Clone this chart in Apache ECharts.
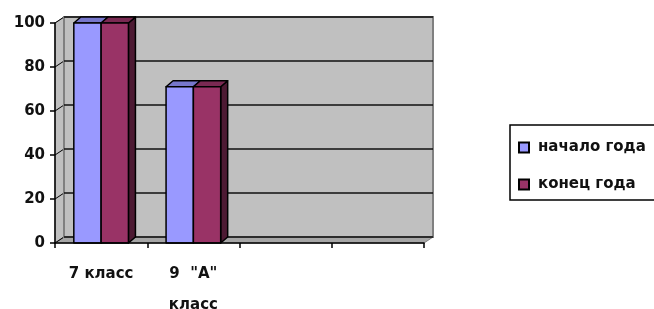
<html>
<head>
    <title>ECharts Sample</title>
    <script src="https://cdn.jsdelivr.net/npm/echarts@6/dist/echarts.min.js"></script>
</head>
<body style="margin:0">
<div id="chart" style="width: 654px; height: 309px;"></div>
<script type="text/javascript">
    // data
    var categories = ['7 класс', '9  "А" класс', '', ''];
    var seriesNames = ['начало года', 'конец года'];
    var startValues = [100, 71];
    var endValues = [100, 71];
    var yTicks = [0, 20, 40, 60, 80, 100];

    // layout of the 3d box
    var G_LEFT = 55, G_TOP = 23, G_W = 369, G_H = 220;
    var WALL_DX = 9, WALL_DY = 6;   // back wall offset
    var BAR_DX = 7, BAR_DY = 6;     // bar depth
    var BAR_RATIO = 0.296;
    var FONT = 'DejaVu Sans';

    var faceColors = ['#9999ff', '#993366'];
    var topColors = ['#7777cc', '#7a2952'];
    var sideColors = ['#4a4a99', '#4d1a33'];

    var chart = echarts.init(document.getElementById('chart'));

    function renderBar(params, api) {
        var si = params.seriesIndex;
        var base = api.coord([api.value(0), 0]);
        var top = api.coord([api.value(0), api.value(1)]);
        var barW = api.size([1, 0])[0] * BAR_RATIO;
        var x = base[0] - barW + si * barW;
        var ty = top[1], by = base[1];
        var stroke = {stroke: '#000', lineWidth: 1.5, lineJoin: 'round'};
        return {
            type: 'group',
            children: [
                {type: 'polygon', shape: {points: [[x + barW, ty], [x + barW + BAR_DX, ty - BAR_DY], [x + barW + BAR_DX, by - BAR_DY], [x + barW, by]]},
                    style: Object.assign({fill: sideColors[si]}, stroke)},
                {type: 'polygon', shape: {points: [[x, ty], [x + BAR_DX, ty - BAR_DY], [x + barW + BAR_DX, ty - BAR_DY], [x + barW, ty]]},
                    style: Object.assign({fill: topColors[si]}, stroke)},
                {type: 'rect', shape: {x: x, y: ty, width: barW, height: by - ty},
                    style: Object.assign({fill: faceColors[si]}, stroke)}
            ]
        };
    }

    // side wall, floor and the diagonal grid lines on the side wall
    var walls = [
        {type: 'polygon', z: -1, shape: {points: [[G_LEFT, G_TOP], [G_LEFT + WALL_DX, G_TOP - WALL_DY], [G_LEFT + WALL_DX, G_TOP + G_H - WALL_DY], [G_LEFT, G_TOP + G_H]]},
            style: {fill: '#c0c0c0', stroke: '#808080', lineWidth: 1}},
        {type: 'polygon', z: -1, shape: {points: [[G_LEFT, G_TOP + G_H], [G_LEFT + WALL_DX, G_TOP + G_H - WALL_DY], [G_LEFT + G_W + WALL_DX, G_TOP + G_H - WALL_DY], [G_LEFT + G_W, G_TOP + G_H]]},
            style: {fill: '#a6a6a6', stroke: '#808080', lineWidth: 1}}
    ];
    yTicks.forEach(function (t) {
        var yf = G_TOP + G_H - t / 100 * G_H;
        walls.push({type: 'line', z: -1, shape: {x1: G_LEFT, y1: yf, x2: G_LEFT + WALL_DX, y2: yf - WALL_DY},
            style: {stroke: '#000', lineWidth: 1}});
    });

    var option = {
        animation: false,
        backgroundColor: '#fff',
        textStyle: {fontFamily: FONT},
        grid: [
            {left: G_LEFT, top: G_TOP, width: G_W, height: G_H, outerBoundsMode: 'none', containLabel: false},
            {left: G_LEFT + WALL_DX, top: G_TOP - WALL_DY, width: G_W, height: G_H, show: true, outerBoundsMode: 'none',
                backgroundColor: '#c0c0c0', borderColor: '#808080', borderWidth: 2}
        ],
        xAxis: [
            {type: 'category', gridIndex: 0, data: categories, z: 5,
                axisLine: {show: true, onZero: false, lineStyle: {color: '#000', width: 1.5}},
                axisTick: {show: true, inside: false, alignWithLabel: false, length: 5, lineStyle: {color: '#000', width: 1.5}},
                axisLabel: {color: '#111', fontFamily: FONT, fontWeight: 'bold', fontSize: 15, margin: 16, lineHeight: 31,
                    formatter: function (v) { return v.length > 8 ? v.replace(' класс', '\nкласс') : v; }}},
            {type: 'category', gridIndex: 1, data: categories, show: false}
        ],
        yAxis: [
            {type: 'value', gridIndex: 0, min: 0, max: 100, interval: 20, z: 5,
                axisLine: {show: true, onZero: false, lineStyle: {color: '#000', width: 1.5}},
                axisTick: {show: true, inside: false, length: 5, lineStyle: {color: '#000', width: 1.5}},
                splitLine: {show: false},
                axisLabel: {color: '#111', fontFamily: FONT, fontWeight: 'bold', fontSize: 15, margin: 10}},
            {type: 'value', gridIndex: 1, min: 0, max: 100, interval: 20,
                axisLine: {show: false}, axisTick: {show: false}, axisLabel: {show: false},
                splitLine: {lineStyle: {color: '#111', width: 1.5}}}
        ],
        legend: {
            orient: 'vertical', left: 510, top: 125,
            padding: [15, 80, 8, 8], itemGap: 22,
            borderColor: '#000', borderWidth: 1.5,
            itemWidth: 10, itemHeight: 10, icon: 'rect',
            textStyle: {fontFamily: FONT, fontWeight: 'bold', fontSize: 15, color: '#111', padding: [0, 0, 0, 4]},
            data: seriesNames
        },
        graphic: walls,
        series: [
            {name: seriesNames[0], type: 'custom', xAxisIndex: 0, yAxisIndex: 0, z: 3,
                itemStyle: {color: faceColors[0], borderColor: '#000', borderWidth: 1.5},
                renderItem: renderBar,
                data: startValues.map(function (v, i) { return [i, v]; })},
            {name: seriesNames[1], type: 'custom', xAxisIndex: 0, yAxisIndex: 0, z: 4,
                itemStyle: {color: faceColors[1], borderColor: '#000', borderWidth: 1.5},
                renderItem: renderBar,
                data: endValues.map(function (v, i) { return [i, v]; })}
        ]
    };

    chart.setOption(option);
</script>
</body>
</html>
